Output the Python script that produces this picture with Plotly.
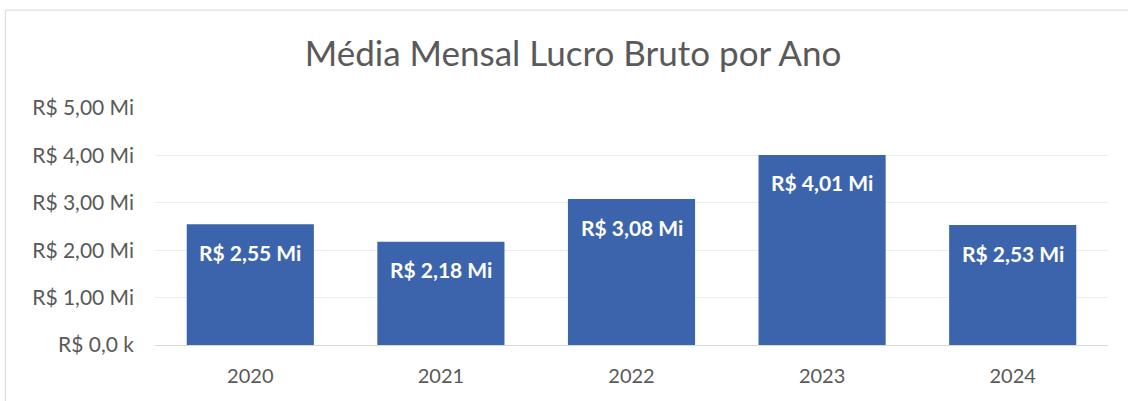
# plot.py
# Média mensal do lucro bruto por ano (gráfico de colunas)

import plotly.graph_objects as go

# ─────────────────────────────────────────────
# DADOS
# ─────────────────────────────────────────────

anos = ["2020", "2021", "2022", "2023", "2024"]
lucro_mi = [2.55, 2.18, 3.08, 4.01, 2.53]   # em milhões de R$

tick_vals = [0, 1, 2, 3, 4, 5]
tick_text = ["R$ 0,0 k", "R$ 1,00 Mi", "R$ 2,00 Mi",
             "R$ 3,00 Mi", "R$ 4,00 Mi", "R$ 5,00 Mi"]

rotulos = [f"R$ {v:.2f} Mi".replace(".", ",") for v in lucro_mi]

BAR_COLOR = "#3C64AC"
TEXT_GREY = "#595959"
FONT = "Lato"

fig = go.Figure()

fig.add_trace(go.Bar(
    x=anos,
    y=lucro_mi,
    marker=dict(color=BAR_COLOR, line=dict(width=0)),
    width=0.667,
    hoverinfo="skip"
))

# rótulos de dados dentro do topo da barra
# (índice da categoria, pois "2020" seria lido como número)
for i, (v, txt) in enumerate(zip(lucro_mi, rotulos)):
    fig.add_annotation(
        x=i, y=v, text=f"<b>{txt}</b>",
        showarrow=False, yshift=-28,
        font=dict(family=FONT, size=21, color="white")
    )

# moldura do gráfico (cortada à direita e embaixo)
fig.add_shape(type="line", xref="paper", yref="paper",
              x0=-0.157, x1=1.1, y0=1.413, y1=1.413,
              line=dict(color="#D9D9D9", width=1))
fig.add_shape(type="line", xref="paper", yref="paper",
              x0=-0.157, x1=-0.157, y0=-0.3, y1=1.413,
              line=dict(color="#D9D9D9", width=1))

fig.update_layout(
    width=1128,
    height=401,
    title=dict(
        text="Média Mensal Lucro Bruto por Ano",
        x=0.508, xanchor="center",
        y=0.865, yanchor="middle",
        font=dict(family=FONT, size=35, color=TEXT_GREY)
    ),
    plot_bgcolor="white",
    paper_bgcolor="white",
    font=dict(family=FONT, color=TEXT_GREY, size=20),
    showlegend=False,
    bargap=0.333,
    margin=dict(l=155, r=20, t=108, b=56),
    xaxis=dict(
        type="category",
        showgrid=False,
        showline=True,
        linecolor="#D9D9D9",
        linewidth=1,
        ticks="",
        ticklabelstandoff=13,
        tickfont=dict(family=FONT, size=20, color=TEXT_GREY)
    ),
    yaxis=dict(
        range=[0, 5],
        tickvals=tick_vals,
        ticktext=tick_text,
        showgrid=True,
        gridcolor="#EDEDED",
        gridwidth=1,
        zeroline=False,
        ticks="",
        ticklabelstandoff=20,
        tickfont=dict(family=FONT, size=21, color=TEXT_GREY)
    )
)

fig.write_html("out.html", config={"displayModeBar": False},
               post_script="document.body.style.margin='0';")
